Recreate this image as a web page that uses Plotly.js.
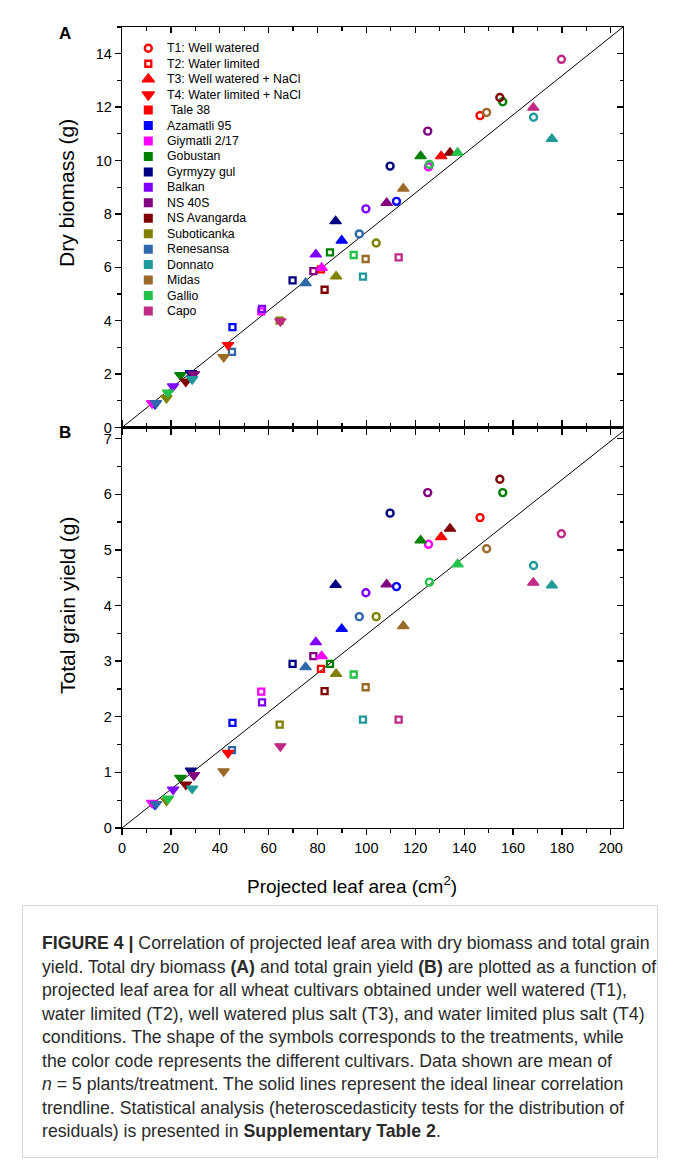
<!DOCTYPE html>
<html><head><meta charset="utf-8">
<script src="https://cdn.plot.ly/plotly-3.0.1.min.js"></script>
<style>
body{margin:0;background:#fff;}
#chart{position:absolute;left:0;top:0;width:674px;height:905px;}
#caption{position:absolute;left:22px;top:905px;width:636px;height:253px;box-sizing:border-box;border:1px solid #d5d5d5;padding:26px 0 0 19px;font-family:'Liberation Sans',Arial,sans-serif;font-size:17.7px;line-height:23.5px;color:#2a2a2a;white-space:nowrap;}
</style></head>
<body>
<div id="chart"></div>
<div id="caption"><b>FIGURE 4 |</b> Correlation of projected leaf area with dry biomass and total grain<br>yield. Total dry biomass <b>(A)</b> and total grain yield <b>(B)</b> are plotted as a function of<br>projected leaf area for all wheat cultivars obtained under well watered (T1),<br>water limited (T2), well watered plus salt (T3), and water limited plus salt (T4)<br>conditions. The shape of the symbols corresponds to the treatments, while<br>the color code represents the different cultivars. Data shown are mean of<br><i>n</i> = 5 plants/treatment. The solid lines represent the ideal linear correlation<br>trendline. Statistical analysis (heteroscedasticity tests for the distribution of<br>residuals) is presented in <b>Supplementary Table 2</b>.</div>
<script>
// ---- data ----
const cultivars = ['Tale 38','Azamatli 95','Giymatli 2/17','Gobustan','Gyrmyzy gul','Balkan','NS 40S','NS Avangarda','Suboticanka','Renesansa','Donnato','Midas','Gallio','Capo'];
const colors = ['#FF0000','#0000FF','#FF00FF','#008000','#000080','#8000FF','#800080','#800000','#808000','#2F68AA','#1F9A9A','#9C6A28','#22C24A','#C12A84'];
const treatments = ['T1: Well watered','T2: Water limited','T3: Well watered + NaCl','T4: Water limited + NaCl'];

// projected leaf area (cm2)
const t1x = [146.5,112.3,125.4,155.8,109.7,99.8,125.1,154.6,104.0,97.1,168.4,149.2,125.8,179.8];
const t2x = [81.4,45.2,57.0,85.1,69.8,57.3,78.3,82.9,64.5,45.0,98.6,99.7,94.8,113.2];
const t3x = [130.6,89.9,81.7,122.2,87.4,79.3,108.3,134.2,87.6,75.1,175.9,115.1,137.3,168.3];
const t4x = [43.4,13.5,12.3,23.9,28.2,20.9,29.4,26.1,18.2,13.9,28.7,41.6,18.8,64.8];
// dry biomass (g)
const t1A = [11.68,8.47,9.76,12.2,9.79,8.19,11.1,12.36,6.91,7.25,11.62,11.8,9.85,13.79];
const t2A = [5.92,3.76,4.35,6.56,5.51,4.44,5.86,5.16,4.0,2.83,5.65,6.31,6.46,6.37];
const t3A = [10.16,7.0,5.98,10.16,7.73,6.48,8.41,10.29,5.66,5.41,10.81,8.95,10.29,11.98];
const t4A = [3.09,0.88,0.91,1.96,2.04,1.54,2.0,1.72,1.10,0.91,1.81,2.64,1.31,3.98];
// total grain yield (g)
const t1B = [5.58,4.34,5.10,6.03,5.66,4.23,6.03,6.27,3.80,3.80,4.72,5.02,4.42,5.29];
const t2B = [2.86,1.89,2.45,2.95,2.95,2.26,3.09,2.46,1.86,1.40,1.95,2.53,2.76,1.95];
const t3B = [5.23,3.58,3.09,5.17,4.37,3.34,4.38,5.38,2.77,2.89,4.36,3.63,4.74,4.41];
const t4B = [1.35,0.42,0.45,0.90,1.03,0.69,0.95,0.78,0.49,0.43,0.71,1.02,0.53,1.47];
// ideal linear correlation lines
const idealX = [0,205];
const idealA = [0,15];
const idealB = [0,7.13];

const xRange = [0,205], yRangeA = [0,15], yRangeB = [0,7.2];
const xTicks = [0,20,40,60,80,100,120,140,160,180,200];

// ---- styling ----
const FONT = 'Liberation Sans, Arial, sans-serif';
const symbols = ['circle-open','square-open','triangle-up','triangle-down'];
const sizes = [7,6,10,10];
const lw = [2.4,2.3,1.2,1.2];

const xs = [t1x,t2x,t3x,t4x];
const ysA = [t1A,t2A,t3A,t4A];
const ysB = [t1B,t2B,t3B,t4B];

const traces = [];
traces.push({x:idealX,y:idealA,xaxis:'x',yaxis:'y',mode:'lines',line:{color:'#000',width:1},hoverinfo:'skip'});
traces.push({x:idealX,y:idealB,xaxis:'x2',yaxis:'y2',mode:'lines',line:{color:'#000',width:1},hoverinfo:'skip'});
for(let t=0;t<4;t++){
  const mk = {symbol:symbols[t],size:sizes[t],color:colors,line:{color:colors,width:lw[t]}};
  traces.push({x:xs[t],y:ysA[t],xaxis:'x',yaxis:'y',mode:'markers',marker:mk,text:cultivars,name:treatments[t],cliponaxis:false});
  traces.push({x:xs[t],y:ysB[t],xaxis:'x2',yaxis:'y2',mode:'markers',marker:mk,text:cultivars,name:treatments[t],cliponaxis:false});
}
// dummy traces so the mirror axes exist
traces.push({x:[null],y:[null],xaxis:'x3',yaxis:'y',mode:'markers',hoverinfo:'skip'});
traces.push({x:[null],y:[null],xaxis:'x',yaxis:'y3',mode:'markers',hoverinfo:'skip'});
traces.push({x:[null],y:[null],xaxis:'x4',yaxis:'y2',mode:'markers',hoverinfo:'skip'});
traces.push({x:[null],y:[null],xaxis:'x2',yaxis:'y4',mode:'markers',hoverinfo:'skip'});

// ---- custom legend inside panel A (pixel -> data of panel A) ----
const L=122, W=501, TOP=27, HA=400.5;
function toAx(px){return (px-L)/W*(xRange[1]-xRange[0]);}
function toAy(py){return (TOP+HA-py)/HA*(yRangeA[1]-yRangeA[0]);}
const legRow0 = 48.3, legStep = 15.45, legMarkX = 148.3, legTextX = 164.5;
const annotations = [];
const legLabels = treatments.concat(cultivars.map((c,i)=> i===0 ? '\u00a0'+c : c));
legLabels.forEach((lab,i)=>{
  const py = legRow0 + i*legStep;
  let mk;
  if(i<4){ mk = {symbol:symbols[i],size:sizes[i]+ (i>=2?1:0),color:'#FF0000',line:{color:'#FF0000',width:lw[i]}}; }
  else { mk = {symbol:'square',size:9,color:colors[i-4],line:{width:0}}; }
  traces.push({x:[toAx(legMarkX)],y:[toAy(py)],xaxis:'x',yaxis:'y',mode:'markers',marker:mk,hoverinfo:'skip'});
  annotations.push({x:toAx(legTextX),y:toAy(py),xref:'x',yref:'y',text:lab,showarrow:false,xanchor:'left',yanchor:'middle',font:{family:FONT,size:12.3,color:'#000'}});
});

// panel letters & axis titles
function px2paperX(px){return (px-L)/W;}
function px2paperY(py){return (TOP+2*HA-py)/(2*HA);}
annotations.push({x:px2paperX(65),y:px2paperY(33),xref:'paper',yref:'paper',text:'<b>A</b>',showarrow:false,xanchor:'center',yanchor:'middle',font:{family:FONT,size:17,color:'#000'}});
annotations.push({x:px2paperX(65),y:px2paperY(432),xref:'paper',yref:'paper',text:'<b>B</b>',showarrow:false,xanchor:'center',yanchor:'middle',font:{family:FONT,size:17,color:'#000'}});
annotations.push({x:px2paperX(67),y:px2paperY(193),xref:'paper',yref:'paper',text:'Dry biomass (g)',textangle:-90,showarrow:false,xanchor:'center',yanchor:'middle',font:{family:FONT,size:21,color:'#000'}});
annotations.push({x:px2paperX(67),y:px2paperY(606),xref:'paper',yref:'paper',text:'Total grain yield (g)',textangle:-90,showarrow:false,xanchor:'center',yanchor:'middle',font:{family:FONT,size:21,color:'#000'}});
annotations.push({x:px2paperX(352),y:px2paperY(885),xref:'paper',yref:'paper',text:'Projected leaf area (cm<sup>2</sup>)',showarrow:false,xanchor:'center',yanchor:'middle',font:{family:FONT,size:19,color:'#000'}});

const base = {showline:true,linecolor:'#000',linewidth:1.3,zeroline:false,showgrid:false,ticklen:6,tickwidth:1.3,tickcolor:'#000',tickfont:{family:FONT,size:14.5,color:'#000'},fixedrange:true,autorange:false};
function minor(d,dir){return {dtick:d,ticks:dir,ticklen:3.5,tickwidth:1.3,tickcolor:'#000',showgrid:false};}

const layout = {
  width:674,height:905,
  margin:{l:L,r:674-L-W,t:TOP,b:905-TOP-2*HA},
  paper_bgcolor:'#fff',plot_bgcolor:'rgba(0,0,0,0)',
  showlegend:false,
  font:{family:FONT,color:'#000'},
  xaxis:Object.assign({},base,{domain:[0,1],anchor:'y',range:xRange,tickmode:'array',tickvals:xTicks,ticks:'outside',showticklabels:false,minor:minor(10,'outside')}),
  yaxis:Object.assign({},base,{domain:[0.5,1],anchor:'x',range:yRangeA,tick0:0,dtick:2,ticks:'outside',minor:minor(1,'outside')}),
  xaxis3:Object.assign({},base,{overlaying:'x',anchor:'y',side:'top',range:xRange,tickmode:'array',tickvals:xTicks,ticks:'inside',showticklabels:false,minor:minor(10,'inside')}),
  yaxis3:Object.assign({},base,{overlaying:'y',anchor:'x',side:'right',range:yRangeA,tick0:0,dtick:2,ticks:'inside',showticklabels:false,minor:minor(1,'inside')}),
  xaxis2:Object.assign({},base,{domain:[0,1],anchor:'y2',range:xRange,tickmode:'array',tickvals:xTicks,ticks:'outside',minor:minor(10,'outside')}),
  yaxis2:Object.assign({},base,{domain:[0,0.5],anchor:'x2',range:yRangeB,tick0:0,dtick:1,ticks:'outside',minor:minor(0.5,'outside')}),
  xaxis4:Object.assign({},base,{overlaying:'x2',anchor:'y2',side:'top',range:xRange,tickmode:'array',tickvals:xTicks,ticks:'outside',showticklabels:false,minor:minor(10,'outside')}),
  yaxis4:Object.assign({},base,{overlaying:'y2',anchor:'x2',side:'right',range:yRangeB,tick0:0,dtick:1,ticks:'inside',showticklabels:false,minor:minor(0.5,'inside')}),
  annotations:annotations
};
traces.forEach(t=>{t.showlegend=false;});
Plotly.newPlot('chart',traces,layout,{staticPlot:true,displayModeBar:false});
</script>
</body></html>
